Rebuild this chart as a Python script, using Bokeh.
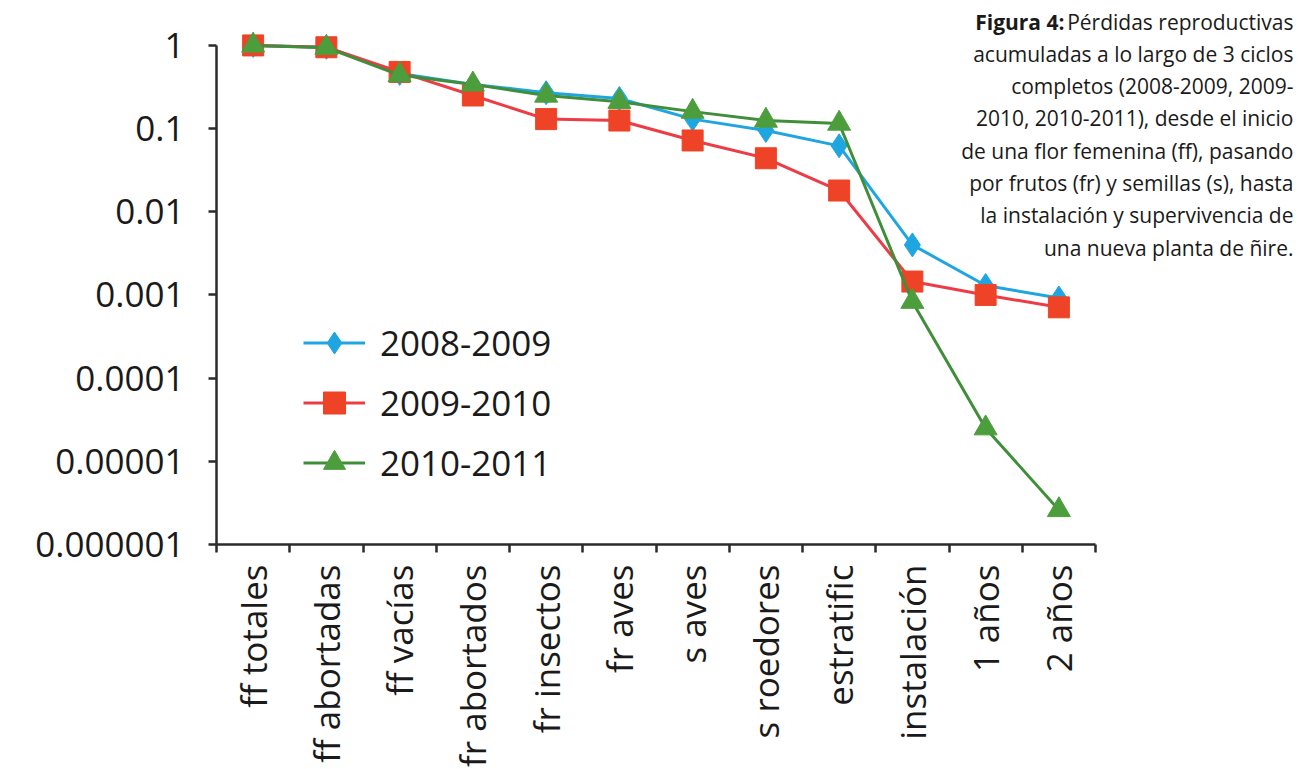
from bokeh.plotting import figure
from bokeh.models import (Range1d, FixedTicker, CustomJSTickFormatter, Legend,
                          LegendItem, Label)
from bokeh.embed import file_html
from bokeh.resources import INLINE

# ---- data ----
categories = ["ff totales", "ff abortadas", "ff vacías", "fr abortados",
              "fr insectos", "fr aves", "s aves", "s roedores", "estratific",
              "instalación", "1 años", "2 años"]
series_names = ["2008-2009", "2009-2010", "2010-2011"]
v_2008_2009 = [1, 0.95, 0.46, 0.34, 0.27, 0.23, 0.13, 0.095, 0.062, 0.0040, 0.0013, 0.00092]
v_2009_2010 = [1, 0.95, 0.48, 0.25, 0.13, 0.125, 0.072, 0.044, 0.018, 0.00145, 0.0010, 0.00071]
v_2010_2011 = [1, 0.94, 0.44, 0.34, 0.25, 0.21, 0.16, 0.125, 0.115, 0.00083, 0.000025, 0.0000026]
y_ticks = [1e-6, 1e-5, 1e-4, 1e-3, 1e-2, 1e-1, 1]
caption_bold = "Figura 4:"
caption_lines = [
    "Pérdidas reproductivas",
    "acumuladas a lo largo de 3 ciclos",
    "completos (2008-2009, 2009-",
    "2010, 2010-2011), desde el inicio",
    "de una flor femenina (ff), pasando",
    "por frutos (fr) y semillas (s), hasta",
    "la instalación y supervivencia de",
    "una nueva planta de ñire.",
]

FONT = "Open Sans"
n = len(categories)
xs = [i + 0.5 for i in range(n)]

W, H = 1299, 769
LEFT, RIGHT_AXIS, BOTTOM = 216, 1095, 545
px_per_cat = (RIGHT_AXIS - LEFT) / n
px_per_dec = (BOTTOM - 45) / 6.0
x_end = n + (W - RIGHT_AXIS) / px_per_cat
y_end = 10 ** (45 / px_per_dec)

p = figure(width=W, height=H, output_backend="svg", toolbar_location=None,
           y_axis_type="log", x_range=Range1d(0, x_end), y_range=Range1d(1e-6, y_end),
           min_border_left=LEFT, min_border_right=0, min_border_top=0,
           min_border_bottom=H - BOTTOM)
p.outline_line_color = None
p.xgrid.visible = False
p.ygrid.visible = False
p.background_fill_color = "white"
p.border_fill_color = "white"

# x axis: labels at centres, ticks at category boundaries
xa = p.xaxis[0]
xa.bounds = (0, n)
xa.ticker = FixedTicker(ticks=xs, minor_ticks=list(range(n + 1)))
xa.formatter = CustomJSTickFormatter(args=dict(cats=categories),
                                     code="return cats[Math.round(tick - 0.5)];")
xa.major_label_orientation = 3.14159265 / 2
xa.major_tick_out = 0
xa.major_tick_in = 0
xa.minor_tick_out = 8
xa.minor_tick_in = 0
xa.minor_tick_line_width = 2.5
xa.minor_tick_line_color = "#2b2b2b"
xa.axis_line_width = 2.5
xa.axis_line_color = "#2b2b2b"
xa.major_label_text_font = FONT
xa.major_label_text_font_size = "35px"
xa.major_label_text_color = "#1a1a1a"
xa.major_label_standoff = 12

ya = p.yaxis[0]
ya.ticker = FixedTicker(ticks=y_ticks, minor_ticks=[])
ya.bounds = (1e-6, 1)
ya.formatter = CustomJSTickFormatter(
    code="return tick.toFixed(Math.max(0, -Math.round(Math.log10(tick))));")
ya.major_tick_out = 8
ya.major_tick_in = 0
ya.major_tick_line_width = 2.5
ya.major_tick_line_color = "#2b2b2b"
ya.minor_tick_line_color = None
ya.axis_line_width = 2.5
ya.axis_line_color = "#2b2b2b"
ya.major_label_text_font = FONT
ya.major_label_text_font_size = "35px"
ya.major_label_text_color = "#1a1a1a"
ya.major_label_standoff = 24

styles = [
    (v_2008_2009, "#1FA6E0", "#1FA6E0", "diamond", 24),
    (v_2009_2010, "#EE3C46", "#EE4326", "square", 21),
    (v_2010_2011, "#3F8F3A", "#4C9E3C", "triangle", 23),
]
items = []
for name, (vals, lc, mc, marker, size) in zip(series_names, styles):
    r1 = p.line(xs, vals, line_color=lc, line_width=3)
    r2 = p.scatter(xs, vals, marker=marker, size=size, fill_color=mc,
                   line_color=mc, line_width=1)
    items.append(LegendItem(label=name, renderers=[r1, r2]))

legend = Legend(items=items, location=(87, 54), orientation="vertical",
                glyph_width=62, glyph_height=55, label_height=55, spacing=5,
                label_standoff=15, padding=0, margin=0,
                label_text_font=FONT, label_text_font_size="35px",
                label_text_color="#1a1a1a",
                border_line_color=None, background_fill_alpha=0)
p.add_layout(legend, "center")

# caption (screen units relative to frame)
right_x = 1293 - LEFT
top_y = BOTTOM - 22
line_h = 32.3
for i, txt in enumerate(caption_lines):
    p.add_layout(Label(x=right_x, y=top_y - i * line_h, x_units="screen",
                       y_units="screen", text=txt, text_align="right",
                       text_baseline="middle", text_font=FONT,
                       text_font_size="21px", text_color="#1a1a1a"))
p.add_layout(Label(x=right_x - 229, y=top_y, x_units="screen", y_units="screen",
                   text=caption_bold, text_align="right", text_baseline="middle",
                   text_font=FONT, text_font_size="21px", text_font_style="bold",
                   text_color="#1a1a1a"))

open("out.html", "w").write(file_html(p, INLINE))
